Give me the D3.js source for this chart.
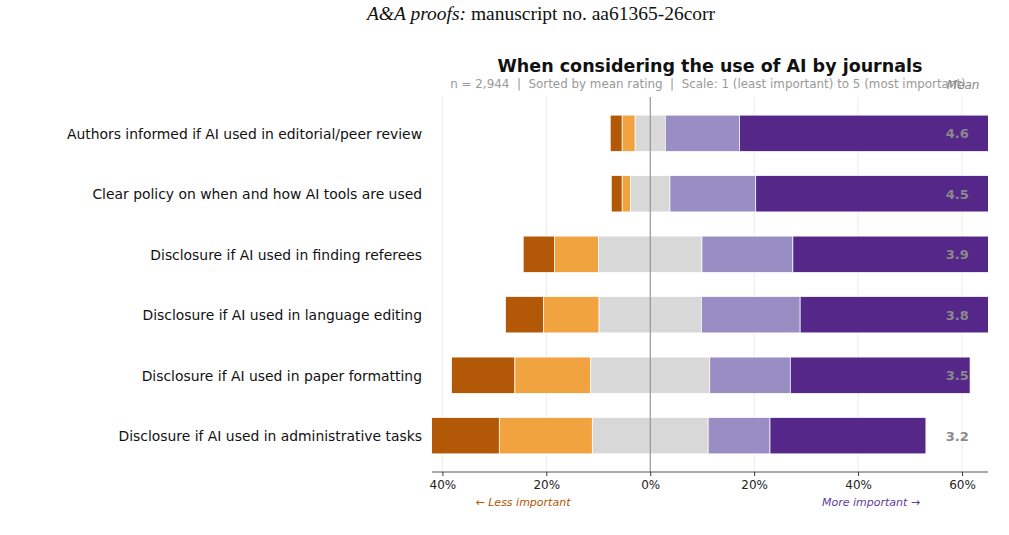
<!DOCTYPE html>
<html>
<head>
<meta charset="utf-8">
<script src="https://cdn.jsdelivr.net/npm/d3@7"></script>
<style>
  body { margin: 0; background: #fff; }
  svg { display: block; }
</style>
</head>
<body>
<svg id="chart"></svg>
<script>
var categories = [
    "Authors informed if AI used in editorial/peer review",
    "Clear policy on when and how AI tools are used",
    "Disclosure if AI used in finding referees",
    "Disclosure if AI used in language editing",
    "Disclosure if AI used in paper formatting",
    "Disclosure if AI used in administrative tasks"
];

// share of responses (%) for rating 1..5
var rating1 = [2.3, 2.1, 6.0, 7.3, 12.2, 17.9];
var rating2 = [2.5, 1.6, 8.5, 10.7, 14.6, 17.9];
var rating3 = [5.8, 7.6, 19.9, 19.7, 22.9, 22.3];
var rating4 = [14.3, 16.5, 17.5, 19.0, 15.5, 11.9];
var rating5 = [75.1, 72.2, 48.1, 43.3, 34.6, 30.0];
var means = [4.6, 4.5, 3.9, 3.8, 3.5, 3.2];

var xTicks = [-40, -20, 0, 20, 40, 60];
var colors = ["#b35806", "#f1a340", "#d8d8d8", "#998ec3", "#542788"];

var width = 1009, height = 535;
var plotL = 432, plotR = 988, plotT = 97, plotB = 472;

var svg = d3.select("#chart")
    .attr("width", width)
    .attr("height", height)
    .style("font-family", "'DejaVu Sans', sans-serif");

var x = d3.scaleLinear().domain([-42, 65]).range([plotL, plotR]);
var y = d3.scaleLinear().domain([-0.6, 5.6]).range([plotT, plotB]);
var barH = y(0.6) - y(0);

svg.append("defs").append("clipPath").attr("id", "plot")
    .append("rect")
    .attr("x", plotL).attr("y", plotT)
    .attr("width", plotR - plotL).attr("height", plotB - plotT);

// header of the page
var head = svg.append("text")
    .attr("x", 541).attr("y", 20)
    .attr("text-anchor", "middle")
    .style("font-family", "'Liberation Serif', 'Times New Roman', serif")
    .style("font-size", "19.5px")
    .attr("fill", "#111");
head.append("tspan").style("font-style", "italic").text("A&A proofs:");
head.append("tspan").text(" manuscript no. aa61365-26corr");

// grid
svg.append("g").selectAll("line")
    .data(xTicks)
    .enter().append("line")
    .attr("x1", function(d) { return x(d); })
    .attr("x2", function(d) { return x(d); })
    .attr("y1", plotT).attr("y2", plotB)
    .attr("stroke", "#ebebeb")
    .attr("stroke-width", 1);

// stacked diverging bars
var rows = categories.map(function(c, i) {
    var vals = [rating1[i], rating2[i], rating3[i], rating4[i], rating5[i]];
    var start = -(vals[0] + vals[1] + vals[2] / 2);
    var segs = [];
    vals.forEach(function(v, k) {
        segs.push({ row: i, k: k, x0: start, x1: start + v });
        start += v;
    });
    return segs;
});

svg.append("g")
    .attr("clip-path", "url(#plot)")
    .selectAll("g")
    .data(rows)
    .enter().append("g")
    .selectAll("rect")
    .data(function(d) { return d; })
    .enter().append("rect")
    .attr("x", function(d) { return x(d.x0); })
    .attr("width", function(d) { return x(d.x1) - x(d.x0); })
    .attr("y", function(d) { return y(d.row) - barH / 2; })
    .attr("height", barH)
    .attr("fill", function(d) { return colors[d.k]; })
    .attr("stroke", "#fff")
    .attr("stroke-width", 0.7);

// zero line
svg.append("line")
    .attr("x1", x(0)).attr("x2", x(0))
    .attr("y1", plotT).attr("y2", plotB)
    .attr("stroke", "#888")
    .attr("stroke-width", 1);

// category labels
svg.append("g").selectAll("text")
    .data(categories)
    .enter().append("text")
    .attr("x", 422)
    .attr("y", function(d, i) { return y(i); })
    .attr("dy", "0.38em")
    .attr("text-anchor", "end")
    .style("font-size", "13.9px")
    .attr("fill", "#111")
    .text(function(d) { return d; });

// mean values
svg.append("g").selectAll("text")
    .data(means)
    .enter().append("text")
    .attr("x", x(59.1))
    .attr("y", function(d, i) { return y(i); })
    .attr("dy", "0.38em")
    .attr("text-anchor", "middle")
    .style("font-size", "13px")
    .style("font-weight", "bold")
    .attr("fill", "#8a8a8a")
    .text(function(d) { return d.toFixed(1); });

// x axis
var xAxis = d3.axisBottom(x)
    .tickValues(xTicks)
    .tickSize(4)
    .tickFormat(function(d) { return Math.abs(d) + "%"; });

var ax = svg.append("g")
    .attr("transform", "translate(0," + plotB + ")")
    .call(xAxis);
ax.select(".domain").attr("stroke", "#555").attr("stroke-width", 1.2)
    .attr("d", "M" + plotL + ",0H" + plotR);
ax.selectAll(".tick line").attr("stroke", "#333");
ax.selectAll(".tick text")
    .attr("y", 8)
    .style("font-family", "'DejaVu Sans', sans-serif")
    .style("font-size", "12px")
    .attr("fill", "#222");

svg.append("text")
    .attr("x", 523).attr("y", 506)
    .attr("text-anchor", "middle")
    .style("font-size", "11px")
    .style("font-style", "italic")
    .attr("fill", "#b35806")
    .text("\u2190 Less important");

svg.append("text")
    .attr("x", 871).attr("y", 506)
    .attr("text-anchor", "middle")
    .style("font-size", "11px")
    .style("font-style", "italic")
    .attr("fill", "#5e3c99")
    .text("More important \u2192");

// titles
svg.append("text")
    .attr("x", 710).attr("y", 72)
    .attr("text-anchor", "middle")
    .style("font-size", "17.5px")
    .style("font-weight", "bold")
    .attr("fill", "#111")
    .text("When considering the use of AI by journals");

svg.append("text")
    .attr("x", 708).attr("y", 88)
    .attr("text-anchor", "middle")
    .style("font-size", "11.9px")
    .attr("fill", "#999")
    .style("white-space", "pre")
    .text("n = 2,944  |  Sorted by mean rating  |  Scale: 1 (least important) to 5 (most important)");

svg.append("text")
    .attr("x", x(60.2)).attr("y", 89)
    .attr("text-anchor", "middle")
    .style("font-size", "12px")
    .style("font-style", "italic")
    .attr("fill", "#888")
    .text("Mean");
</script>
</body>
</html>
